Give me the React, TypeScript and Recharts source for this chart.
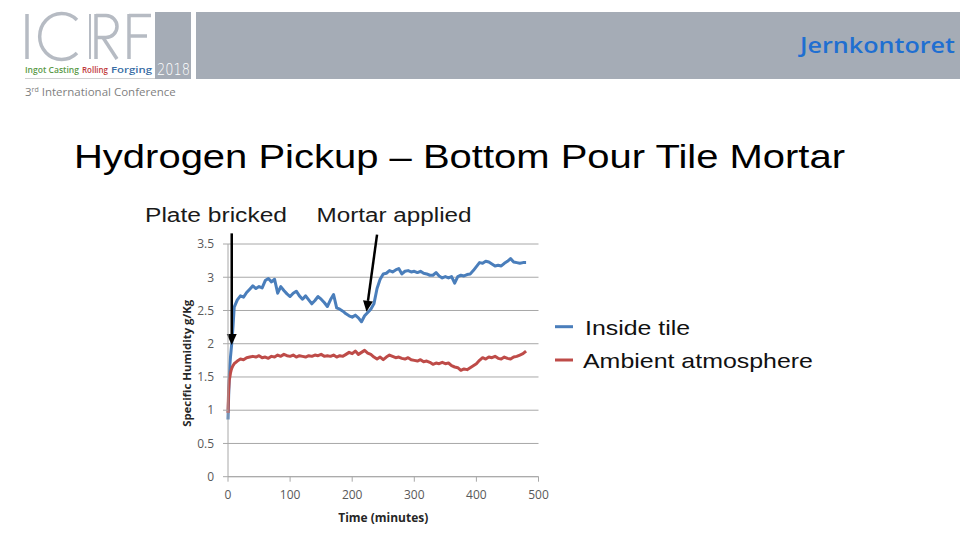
import React from "react";
import {
  LineChart,
  Line,
  XAxis,
  YAxis,
  CartesianGrid,
  Legend,
  ReferenceLine,
} from "recharts";

// time axis (minutes) shared by both series
const minutes = [
  0, 1, 2, 3, 4, 5, 6, 8, 10, 15, 20, 25, 30, 35, 40, 45, 50, 55, 60, 65, 70, 75, 80, 85, 90, 95,
  100, 105, 110, 115, 120, 125, 130, 135, 140, 145, 150, 155, 160, 165, 170, 175, 180, 185, 190, 195,
  200, 205, 210, 215, 220, 225, 230, 235, 240, 245, 250, 255, 260, 265, 270, 275, 280, 285, 290, 295,
  300, 305, 310, 315, 320, 325, 330, 335, 340, 345, 350, 355, 360, 365, 370, 375, 380, 385, 390, 395,
  400, 405, 410, 415, 420, 425, 430, 435, 440, 445, 450, 455, 460, 465, 470, 475, 480,
];

// specific humidity g/Kg
const insideTile = [
  0.86, 1.2, 1.5, 1.68, 1.8, 1.9, 2.0, 2.25, 2.55, 2.66, 2.72, 2.7, 2.77, 2.82, 2.87, 2.83, 2.86, 2.84,
  2.95, 2.98, 2.93, 2.97, 2.76, 2.86, 2.8, 2.75, 2.71, 2.76, 2.79, 2.72, 2.67, 2.72, 2.66, 2.6, 2.65,
  2.71, 2.67, 2.62, 2.56, 2.66, 2.74, 2.54, 2.52, 2.49, 2.45, 2.42, 2.4, 2.43, 2.39, 2.33, 2.42, 2.47,
  2.52, 2.6, 2.83, 2.97, 3.05, 3.06, 3.1, 3.08, 3.11, 3.13, 3.05, 3.09, 3.1, 3.08, 3.09, 3.07, 3.09,
  3.06, 3.05, 3.03, 3.03, 3.07, 3.02, 2.99, 3.01, 2.99, 3.01, 2.91, 3.01, 3.03, 3.02, 3.04, 3.05, 3.1,
  3.16, 3.22, 3.21, 3.24, 3.23, 3.2, 3.17, 3.18, 3.17, 3.21, 3.24, 3.28, 3.23, 3.22, 3.21, 3.22, 3.22,
];

const ambient = [
  0.96, 1.3, 1.45, 1.5, 1.56, 1.6, 1.63, 1.67, 1.7, 1.74, 1.77, 1.76, 1.79, 1.8, 1.81, 1.8, 1.82, 1.79,
  1.8, 1.78, 1.81, 1.8, 1.83, 1.81, 1.84, 1.82, 1.81, 1.83, 1.8, 1.82, 1.81, 1.8, 1.82, 1.81, 1.83,
  1.82, 1.84, 1.81, 1.82, 1.81, 1.83, 1.8, 1.82, 1.81, 1.84, 1.87, 1.85, 1.89, 1.84, 1.87, 1.9, 1.86,
  1.84, 1.8, 1.77, 1.8, 1.76, 1.8, 1.83, 1.81, 1.79, 1.8, 1.78, 1.77, 1.79, 1.76, 1.75, 1.74, 1.76,
  1.73, 1.74, 1.72, 1.69, 1.71, 1.7, 1.72, 1.7, 1.71, 1.67, 1.65, 1.64, 1.6, 1.62, 1.61, 1.64, 1.67,
  1.7, 1.75, 1.79, 1.77, 1.8, 1.79, 1.81, 1.78, 1.77, 1.8, 1.78, 1.77, 1.8, 1.81, 1.83, 1.85, 1.89,
];

const xTicks = [0, 100, 200, 300, 400, 500];
const yTicks = [0, 0.5, 1, 1.5, 2, 2.5, 3, 3.5];

// annotation arrows: [start, tip] in data units
const plateBricked = [
  { x: 6, y: 3.66 },
  { x: 6, y: 1.98 },
];
const mortarApplied = [
  { x: 240, y: 3.64 },
  { x: 223, y: 2.48 },
];

const rows = minutes.map((m, i) => ({ t: m, inside: insideTile[i], ambient: ambient[i] }));

const BLUE = "#4a7ebb";
const RED = "#be4b48";
const GRID = "#a8a8a8";
const ARIAL = "'Liberation Sans', Arial, sans-serif";
const SANS = "'Open Sans', sans-serif";
const LOGO = "#b6bbc3";

const Arrow = (p: any) => {
  const { x1, y1, x2, y2 } = p;
  const dx = x2 - x1;
  const dy = y2 - y1;
  const len = Math.hypot(dx, dy) || 1;
  const ux = dx / len;
  const uy = dy / len;
  const head = 11;
  const half = 5;
  const bx = x2 - ux * head;
  const by = y2 - uy * head;
  return (
    <g>
      <line x1={x1} y1={y1} x2={bx} y2={by} stroke="#000" strokeWidth={2.5} />
      <polygon
        points={`${x2},${y2} ${bx - uy * half},${by + ux * half} ${bx + uy * half},${by - ux * half}`}
        fill="#000"
      />
    </g>
  );
};

const LegendBox = () => (
  <svg width={300} height={70} style={{ display: "block" }}>
    <line x1={5} y1={11.7} x2={23} y2={11.7} stroke={BLUE} strokeWidth={3} />
    <text x={35} y={20} fontFamily={ARIAL} fontSize={21} fill="#111" textLength={105} lengthAdjust="spacingAndGlyphs">
      Inside tile
    </text>
    <line x1={5} y1={45} x2={23} y2={45} stroke={RED} strokeWidth={3} />
    <text x={33} y={53.3} fontFamily={ARIAL} fontSize={21} fill="#111" textLength={230} lengthAdjust="spacingAndGlyphs">
      Ambient atmosphere
    </text>
  </svg>
);

const YTitle = (props: any) => {
  const vb = props.viewBox;
  const cx = vb.x + 16.7;
  const cy = vb.y + vb.height / 2 + 3;
  return (
    <text
      x={cx}
      y={cy}
      transform={`rotate(-90 ${cx} ${cy})`}
      textAnchor="middle"
      dominantBaseline="central"
      fontFamily={SANS}
      fontWeight={700}
      fontSize={10.5}
      fill="#262626"
      textLength={127}
      lengthAdjust="spacingAndGlyphs"
    >
      Specific Humidity g/Kg
    </text>
  );
};

const XTitle = (props: any) => {
  const vb = props.viewBox;
  return (
    <text
      x={vb.x + vb.width / 2}
      y={vb.y + 45.5}
      textAnchor="middle"
      fontFamily={SANS}
      fontWeight={700}
      fontSize={11.5}
      fill="#262626"
      textLength={90}
      lengthAdjust="spacingAndGlyphs"
    >
      Time (minutes)
    </text>
  );
};

function Header() {
  return (
    <svg width={960} height={240} style={{ position: "absolute", left: 0, top: 0 }}>
      <rect x={155} y={12} width={36} height={67} fill="#a5acb6" />
      <rect x={196} y={12} width={764} height={67} fill="#a5acb6" />
      {/* ICRF logo mark, thin strokes */}
      <g fill="none" stroke={LOGO} strokeWidth={3.5}>
        <line x1={27} y1={14} x2={27} y2={59} />
        <path d="M 77 20 A 22 23 0 1 0 77 53" />
        <line x1={90} y1={14} x2={90} y2={59} strokeWidth={2} />
        <line x1={96} y1={14} x2={96} y2={59} />
        <path d="M 96 15.5 L 106 15.5 A 11 11 0 0 1 106 37.5 L 96 37.5" />
        <line x1={103} y1={37.5} x2={117} y2={59} />
        <line x1={129} y1={14} x2={129} y2={59} />
        <line x1={129} y1={15.5} x2={151} y2={15.5} />
        <line x1={129} y1={36} x2={147} y2={36} />
      </g>
      <text x={157} y={75} fontFamily="'DejaVu Sans', sans-serif" fontWeight={200} fontSize={15} fill="#fff" textLength={33} lengthAdjust="spacingAndGlyphs">
        2018
      </text>
      <g fontFamily={SANS} fontSize={9} fontWeight={600}>
        <text x={25} y={73} fill="#5b9a48" textLength={54} lengthAdjust="spacingAndGlyphs">Ingot Casting</text>
        <text x={82} y={73} fill="#c0393b" textLength={26} lengthAdjust="spacingAndGlyphs">Rolling</text>
        <text x={111} y={73} fill="#3a6ea5" textLength={41} lengthAdjust="spacingAndGlyphs">Forging</text>
      </g>
      <line x1={25} y1={78.5} x2={155} y2={78.5} stroke="#d0d0d0" strokeWidth={1} />
      <text x={25} y={96} fontFamily={SANS} fontSize={11.5} fill="#7f7f7f">
        3<tspan fontSize={7} dy={-4}>rd</tspan>
        <tspan dy={4}> International Conference</tspan>
      </text>
      <text x={800} y={53} fontFamily={SANS} fontWeight={600} fontSize={21} fill="#1f6fd1" textLength={155} lengthAdjust="spacingAndGlyphs">
        Jernkontoret
      </text>
      <text x={74} y={167.5} fontFamily={ARIAL} fontSize={33.5} fill="#000" textLength={771} lengthAdjust="spacingAndGlyphs">
        Hydrogen Pickup – Bottom Pour Tile Mortar
      </text>
      <text x={145} y={221.7} fontFamily={ARIAL} fontSize={20} fill="#1a1a1a" textLength={142} lengthAdjust="spacingAndGlyphs">
        Plate bricked
      </text>
      <text x={316.5} y={221.7} fontFamily={ARIAL} fontSize={20} fill="#1a1a1a" textLength={155} lengthAdjust="spacingAndGlyphs">
        Mortar applied
      </text>
    </svg>
  );
}

export default function App() {
  const tick = { fill: "#595959", fontSize: 12, fontFamily: SANS };
  return (
    <div style={{ position: "absolute", left: 0, top: 0, width: 960, height: 540, background: "#fff", overflow: "hidden" }}>
      <Header />
      <div style={{ position: "absolute", left: 170, top: 230 }}>
        <LineChart width={680} height={300} data={rows} margin={{ top: 14, right: 311.5, bottom: 8.3, left: 0 }}>
          <CartesianGrid vertical={false} stroke={GRID} strokeWidth={1} />
          <XAxis
            dataKey="t"
            type="number"
            domain={[0, 500]}
            ticks={xTicks}
            height={45}
            tick={tick}
            tickSize={5}
            tickMargin={9}
            axisLine={{ stroke: GRID }}
            tickLine={{ stroke: GRID }}
            label={XTitle}
          />
          <YAxis
            type="number"
            domain={[0, 3.5]}
            ticks={yTicks}
            width={58}
            tick={tick}
            tickSize={5}
            tickMargin={9}
            axisLine={{ stroke: GRID }}
            tickLine={{ stroke: GRID }}
            label={YTitle}
          />
          <Legend
            layout="vertical"
            align="center"
            verticalAlign="middle"
            content={LegendBox}
            wrapperStyle={{ left: 380, top: 85, width: 300, height: 70 }}
          />
          <Line
            type="linear"
            dataKey="inside"
            name="Inside tile"
            stroke={BLUE}
            strokeWidth={3}
            dot={false}
            strokeLinejoin="round"
            isAnimationActive={false}
          />
          <Line
            type="linear"
            dataKey="ambient"
            name="Ambient atmosphere"
            stroke={RED}
            strokeWidth={3}
            dot={false}
            strokeLinejoin="round"
            isAnimationActive={false}
          />
          <ReferenceLine segment={plateBricked} ifOverflow="visible" shape={Arrow} />
          <ReferenceLine segment={mortarApplied} ifOverflow="visible" shape={Arrow} />
        </LineChart>
      </div>
    </div>
  );
}
